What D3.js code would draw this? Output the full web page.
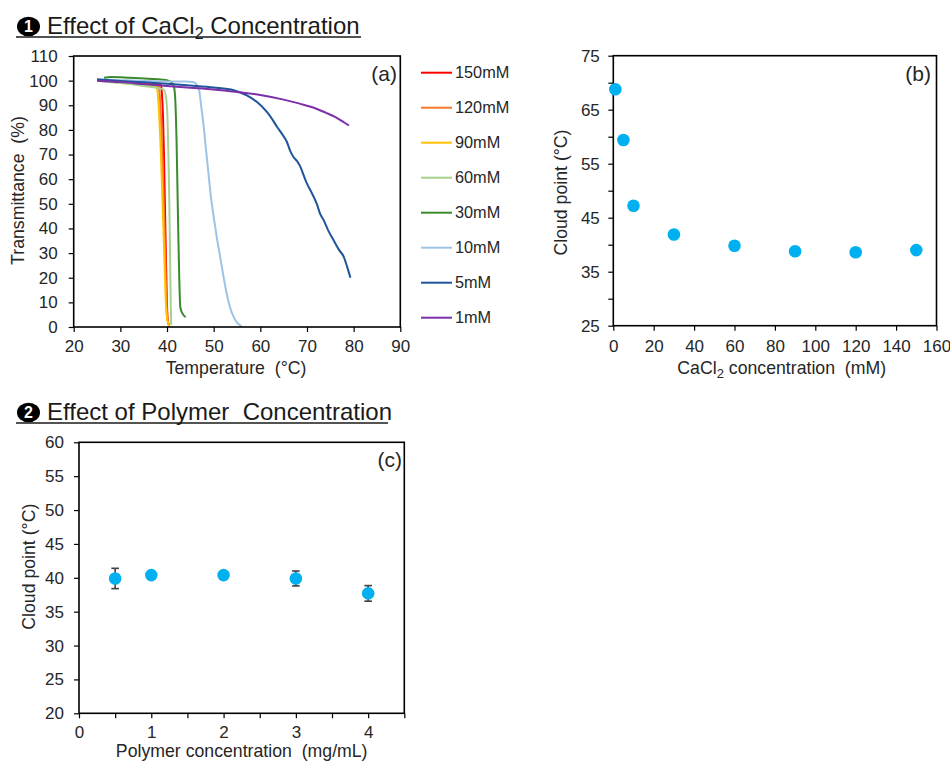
<!DOCTYPE html>
<html>
<head>
<meta charset="utf-8">
<script src="https://cdn.jsdelivr.net/npm/d3@7"></script>
<style>
    body { margin: 0; background: #fff; }
    svg text { font-family: "Liberation Sans", Arial, sans-serif; fill: #262626; }
</style>
</head>
<body>
<svg id="chart" width="950" height="762"></svg>
<script>
// (a) transmittance curves, [temperature °C, transmittance %]
const s150 = [[26,100.2],[30,99.8],[35,99.2],[38.7,98.4],[38.9,95],[39.15,85],[39.35,70],[39.55,50],[39.75,30],[39.95,12],[40.15,3],[40.4,0.8]];
const s120 = [[26,100],[30,99.5],[35,98.8],[38.2,97.8],[38.45,94],[38.7,85],[39,70],[39.3,50],[39.6,30],[39.85,12],[40.1,3],[40.5,0.5]];
const s90 = [[27,99.6],[32,98.8],[36,98],[37.8,97.4],[38.05,94],[38.35,85],[38.7,70],[39.05,50],[39.4,30],[39.7,12],[40.05,3],[40.6,0]];
const s60 = [[25,100],[30,99],[35,97.8],[38,97],[39.3,96.3],[39.8,93],[40.1,85],[40.3,70],[40.5,50],[40.65,30],[40.8,10],[40.9,0.8]];
const s30 = [[26.5,101.2],[28,101.5],[32,101.2],[36,100.8],[39,100.4],[40.5,99.8],[41.1,99.2],[41.5,97.5],[41.8,91],[42.05,75],[42.25,55],[42.45,35],[42.65,18],[42.85,8],[43.3,5.5],[44,4]];
const s10 = [[27,100.4],[30,100.2],[35,99.9],[40,99.7],[44,99.6],[45.5,99.4],[46.3,98.6],[46.9,96],[47.3,90],[47.8,82.5],[48.3,73],[48.9,62],[49.4,53],[50,44.7],[50.7,36],[51.4,28.4],[52.1,20.5],[52.8,13.5],[53.5,8],[54.3,4],[55,1.8],[56,0.3]];
const s5 = [[25,100.6],[30,99.9],[35,99.3],[40,98.7],[45,98],[50,97.2],[54.3,96.1],[57.1,94],[59.3,91.3],[61.4,87.3],[62.5,84.5],[63.6,81.2],[64.6,78.5],[65.7,75.1],[66.4,71.5],[67.1,69],[68,67],[68.6,65],[69.3,61.5],[70,58.2],[71,54.5],[72.1,50],[72.8,46],[73.6,43.3],[74.6,39],[75.7,35.2],[76.8,31.5],[77.9,28.4],[78.6,24.5],[79.3,20]];
const s1 = [[25,100],[30,99.4],[35,98.6],[40,97.8],[45,97.1],[50,96.4],[55,95.4],[60,94.2],[65,92.3],[70,89.8],[72,88.6],[74,87],[76,85.3],[78,83],[79,81.8]];

const seriesNames = ['150mM', '120mM', '90mM', '60mM', '30mM', '10mM', '5mM', '1mM'];
const seriesData = [s150, s120, s90, s60, s30, s10, s5, s1];
const seriesColors = ['#FF0000', '#F7782A', '#FFC000', '#A9D18E', '#3B8B2E', '#9DC3E6', '#1F559B', '#7B2FA8'];

const tempTicks = [20, 30, 40, 50, 60, 70, 80, 90];
const transTicks = [0, 10, 20, 30, 40, 50, 60, 70, 80, 90, 100, 110];

// (b) cloud point vs CaCl2
const cacl2Conc = [1, 5, 10, 30, 60, 90, 120, 150];
const cloudPointB = [68.8, 59.4, 47.2, 41.9, 39.8, 38.8, 38.6, 39.0];
const concTicksB = [0, 20, 40, 60, 80, 100, 120, 140, 160];
const cloudTicksB = [25, 30, 35, 40, 45, 50, 55, 60, 65, 70, 75];
const cloudLabelsB = [25, 35, 45, 55, 65, 75];

// (c) cloud point vs polymer concentration
const polymerConc = [0.5, 1, 2, 3, 4];
const cloudPointC = [39.9, 40.4, 40.4, 39.9, 37.7];
const cloudErrC = [1.5, 0.3, 0.5, 1.1, 1.15];
const concTicksC = [0, 0.5, 1, 1.5, 2, 2.5, 3, 3.5, 4, 4.5];
const cloudTicksC = [20, 25, 30, 35, 40, 45, 50, 55, 60];

const svg = d3.select('#chart');
const dotColor = '#00B0F0';
const titleSize = '17.7px';

function axisStyle(g) {
    g.attr('font-size', null).attr('font-family', null);
    g.select('.domain').remove();
    g.selectAll('.tick line').attr('stroke', '#000').attr('stroke-width', 1.2);
    g.selectAll('.tick text').style('font-size', '17px');
}

function frame(x, y) {
    const [x0, x1] = x.range();
    const [y0, y1] = y.range();
    svg.append('rect')
        .attr('x', x0).attr('y', y1)
        .attr('width', x1 - x0).attr('height', y0 - y1)
        .attr('fill', 'none').attr('stroke', '#000').attr('stroke-width', 1.6);
}

function sectionTitle(num, y, parts, lineEnd) {
    svg.append('ellipse').attr('cx', 28.5).attr('cy', y - 7.5).attr('rx', 11.5).attr('ry', 9.8).attr('fill', '#000');
    svg.append('text').attr('x', 28.5).attr('y', y - 2)
        .attr('text-anchor', 'middle').style('font-size', '16px').style('font-weight', 'bold')
        .style('fill', '#fff').text(num);
    const t = svg.append('text').attr('x', 47).attr('y', y).style('font-size', '24px').style('fill', '#1a1a1a');
    parts.forEach(p => {
        const ts = t.append('tspan').text(p.text);
        if (p.sub) ts.attr('baseline-shift', '-5').style('font-size', '16px');
    });
    svg.append('line').attr('x1', 16).attr('x2', lineEnd).attr('y1', y + 3).attr('y2', y + 3)
        .attr('stroke', '#1a1a1a').attr('stroke-width', 1.5);
}

sectionTitle('1', 34, [{ text: 'Effect of CaCl' }, { text: '2', sub: true }, { text: ' Concentration' }], 361);
sectionTitle('2', 420, [{ text: 'Effect of Polymer\u00a0 Concentration' }], 388);

// ---------- panel (a)
const xA = d3.scaleLinear().domain([20, 90]).range([73.7, 400.3]);
const yA = d3.scaleLinear().domain([0, 110]).range([327, 56]);

svg.append('g').attr('transform', 'translate(0,327)')
    .call(d3.axisBottom(xA).tickValues(tempTicks).tickSize(5).tickPadding(7.5))
    .call(axisStyle);
svg.append('g').attr('transform', 'translate(73.7,0)')
    .call(d3.axisLeft(yA).tickValues(transTicks).tickSize(5).tickPadding(11))
    .call(axisStyle);

const line = d3.line()
    .x(d => xA(d[0]))
    .y(d => yA(d[1]))
    .curve(d3.curveMonotoneX);

seriesData.forEach((s, i) => {
    svg.append('path').datum(s)
        .attr('d', line)
        .attr('fill', 'none')
        .attr('stroke', seriesColors[i])
        .attr('stroke-width', 2)
        .attr('stroke-linejoin', 'round');
});
frame(xA, yA);

const legend = svg.append('g');
seriesNames.forEach((name, i) => {
    const ly = 72.7 + i * 35;
    legend.append('line').attr('x1', 421).attr('x2', 452).attr('y1', ly).attr('y2', ly)
        .attr('stroke', seriesColors[i]).attr('stroke-width', 2);
    legend.append('text').attr('x', 455).attr('y', ly).attr('dy', '0.35em')
        .style('font-size', '16.3px').text(name);
});

svg.append('text').attr('x', 236).attr('y', 374).attr('text-anchor', 'middle')
    .style('font-size', titleSize).text('Temperature\u00a0 (°C)');
svg.append('text').attr('transform', 'translate(24,190.5) rotate(-90)').attr('text-anchor', 'middle')
    .style('font-size', titleSize).text('Transmittance\u00a0 (%)');
svg.append('text').attr('x', 397).attr('y', 81).attr('text-anchor', 'end')
    .style('font-size', '21px').text('(a)');

// ---------- panel (b)
const xB = d3.scaleLinear().domain([0, 160]).range([613.3, 936.5]);
const yB = d3.scaleLinear().domain([25, 75]).range([325.7, 55.7]);

svg.append('g').attr('transform', 'translate(0,325.7)')
    .call(d3.axisBottom(xB).tickValues(concTicksB).tickSize(5).tickPadding(9.5))
    .call(axisStyle);
svg.append('g').attr('transform', 'translate(613.3,0)')
    .call(d3.axisLeft(yB).tickValues(cloudTicksB).tickSize(5).tickPadding(8.5)
        .tickFormat(d => cloudLabelsB.includes(d) ? d : ''))
    .call(axisStyle);
frame(xB, yB);

svg.append('g').selectAll('circle')
    .data(cacl2Conc)
    .enter().append('circle')
    .attr('cx', d => xB(d))
    .attr('cy', (d, i) => yB(cloudPointB[i]))
    .attr('r', 6.3)
    .attr('fill', dotColor);

const tb = svg.append('text').attr('x', 781.7).attr('y', 374).attr('text-anchor', 'middle').style('font-size', titleSize);
tb.append('tspan').text('CaCl');
tb.append('tspan').attr('baseline-shift', '-4').style('font-size', '13px').text('2');
tb.append('tspan').text(' concentration\u00a0 (mM)');
svg.append('text').attr('transform', 'translate(567,192.5) rotate(-90)').attr('text-anchor', 'middle')
    .style('font-size', titleSize).text('Cloud point (°C)');
svg.append('text').attr('x', 931).attr('y', 81).attr('text-anchor', 'end')
    .style('font-size', '21px').text('(b)');

// ---------- panel (c)
const xC = d3.scaleLinear().domain([0, 4.5]).range([79, 404.3]);
const yC = d3.scaleLinear().domain([20, 60]).range([713.3, 442.3]);

svg.append('g').attr('transform', 'translate(0,713.3)')
    .call(d3.axisBottom(xC).tickValues(concTicksC).tickSize(5).tickPadding(7.5)
        .tickFormat(d => Number.isInteger(d) ? d : ''))
    .call(axisStyle);
svg.append('g').attr('transform', 'translate(79,0)')
    .call(d3.axisLeft(yC).tickValues(cloudTicksC).tickSize(5).tickPadding(10))
    .call(axisStyle);
frame(xC, yC);

const errG = svg.append('g').attr('stroke', '#404040').attr('stroke-width', 1.6);
polymerConc.forEach((c, i) => {
    const cx = xC(c);
    const top = yC(cloudPointC[i] + cloudErrC[i]);
    const bot = yC(cloudPointC[i] - cloudErrC[i]);
    errG.append('line').attr('x1', cx).attr('x2', cx).attr('y1', top).attr('y2', bot);
    errG.append('line').attr('x1', cx - 3.8).attr('x2', cx + 3.8).attr('y1', top).attr('y2', top);
    errG.append('line').attr('x1', cx - 3.8).attr('x2', cx + 3.8).attr('y1', bot).attr('y2', bot);
});

svg.append('g').selectAll('circle')
    .data(polymerConc)
    .enter().append('circle')
    .attr('cx', d => xC(d))
    .attr('cy', (d, i) => yC(cloudPointC[i]))
    .attr('r', 6.3)
    .attr('fill', dotColor);

svg.append('text').attr('x', 241.7).attr('y', 757).attr('text-anchor', 'middle')
    .style('font-size', titleSize).text('Polymer concentration\u00a0 (mg/mL)');
svg.append('text').attr('transform', 'translate(35,566.7) rotate(-90)').attr('text-anchor', 'middle')
    .style('font-size', titleSize).text('Cloud point (°C)');
svg.append('text').attr('x', 402).attr('y', 467).attr('text-anchor', 'end')
    .style('font-size', '21px').text('(c)');
</script>
</body>
</html>
